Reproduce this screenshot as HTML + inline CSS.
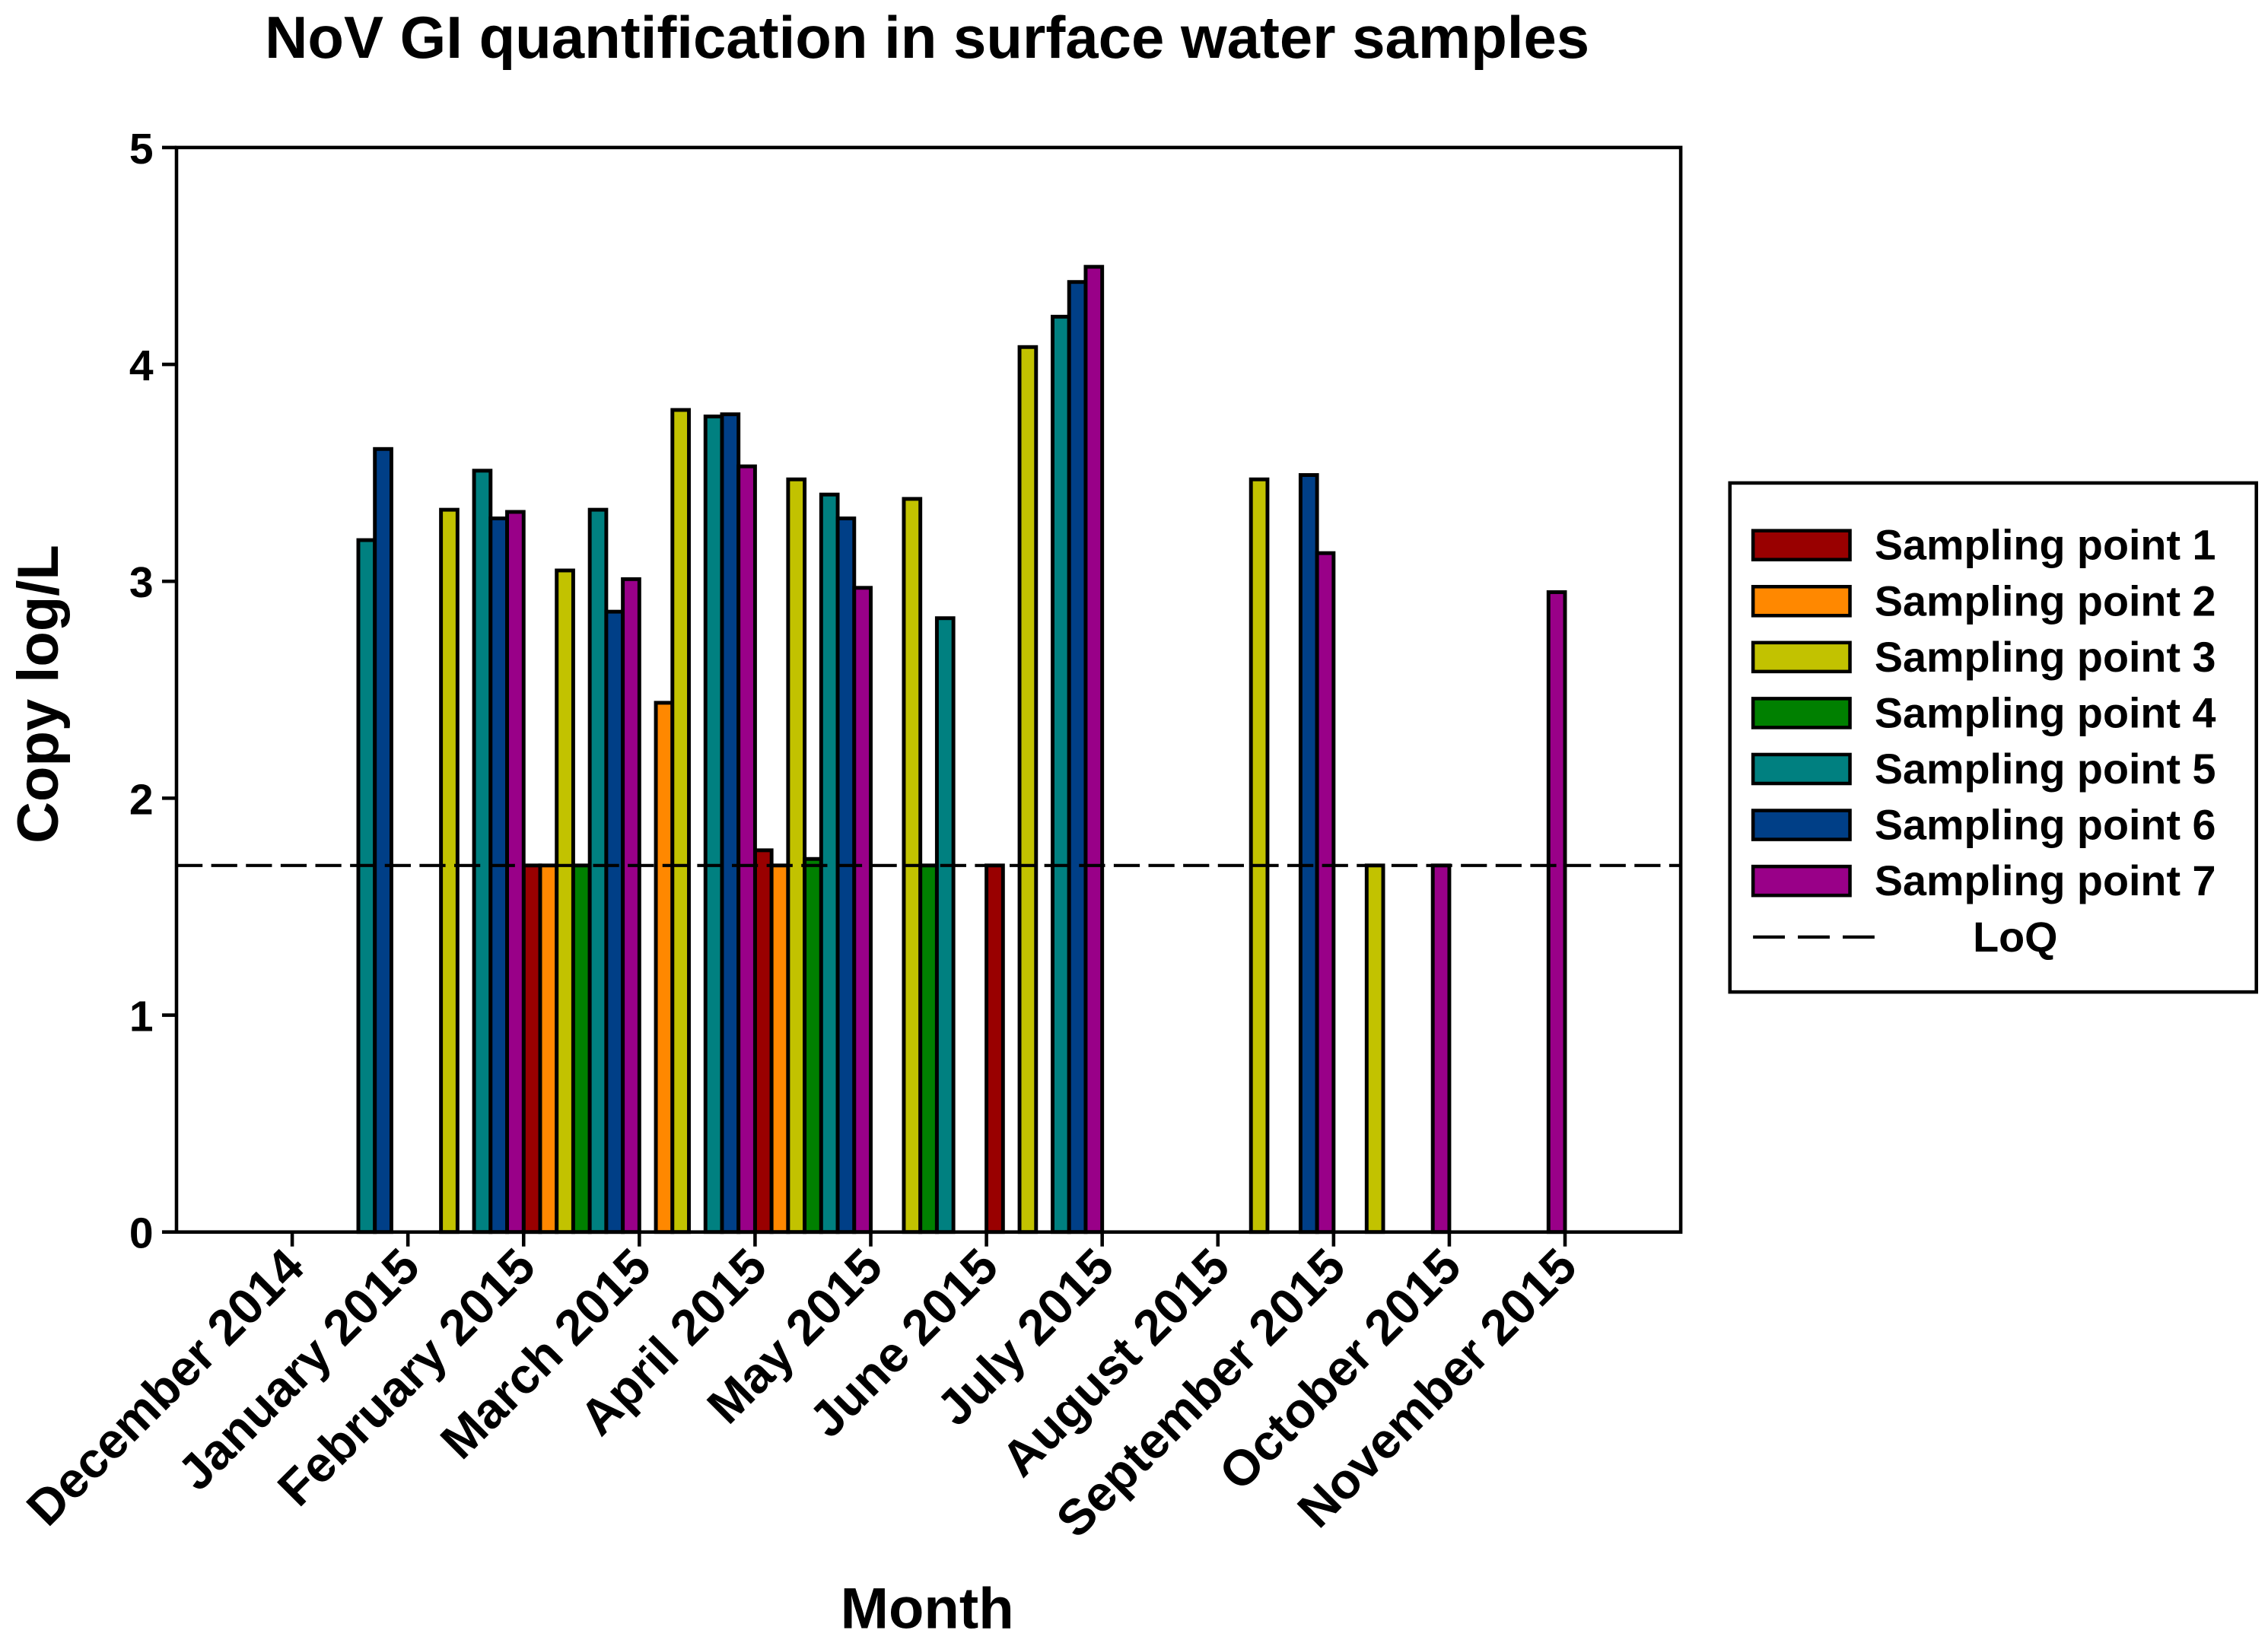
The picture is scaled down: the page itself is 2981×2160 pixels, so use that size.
<!DOCTYPE html>
<html><head><meta charset="utf-8"><style>html,body{margin:0;padding:0;background:#fff}svg{display:block}text{font-family:"Liberation Sans",Arial,sans-serif;font-weight:bold;fill:#000}</style></head>
<body>
<svg id="chart" width="2981" height="2160" viewBox="0 0 1568 1136.2" xmlns="http://www.w3.org/2000/svg">
<text x="641" y="40" font-size="41" text-anchor="middle">NoV GI quantification in surface water samples</text>
<g id="bars"></g>
<g id="axes"></g>
<text transform="translate(40,480) rotate(-90)" font-size="40" text-anchor="middle">Copy log/L</text>
<text x="641" y="1126" font-size="40" text-anchor="middle">Month</text>
<g id="legend"></g>
</svg>
<script>
const monthLabels = ['December 2014','January 2015','February 2015','March 2015','April 2015','May 2015','June 2015','July 2015','August 2015','September 2015','October 2015','November 2015'];
const seriesNames = ['Sampling point 1','Sampling point 2','Sampling point 3','Sampling point 4','Sampling point 5','Sampling point 6','Sampling point 7'];
const seriesColors = ['#990000','#FF8800','#C2C200','#008000','#008080','#003F87','#990088'];
// 13 groups (group 0 empty); null = no bar
const sp1 = [null,null,null,1.69,null,1.76,null,1.69,null,null,null,null,null];
const sp2 = [null,null,null,1.69,2.44,1.69,null,null,null,null,null,null,null];
const sp3 = [null,null,3.33,3.05,3.79,3.47,3.38,4.08,null,3.47,1.69,null,null];
const sp4 = [null,null,null,1.69,null,1.72,1.69,null,null,null,null,null,null];
const sp5 = [null,3.19,3.51,3.33,3.76,3.40,2.83,4.22,null,null,null,null,null];
const sp6 = [null,3.61,3.29,2.86,3.77,3.29,null,4.38,null,3.49,null,null,null];
const sp7 = [null,null,3.32,3.01,3.53,2.97,null,4.45,null,3.13,1.69,2.95,null];
const yTicks = [0,1,2,3,4,5];
const loq = 1.69;

const NS='http://www.w3.org/2000/svg';
const L=122,R=1162,T=102,B=852,nG=13,gw=(R-L)/nG;
const y=v=>B-(v-0)/(5-0)*(B-T);
const xg=i=>L+i*gw;
const series=[sp1,sp2,sp3,sp4,sp5,sp6,sp7];
function mk(tag,attrs,parent){const e=document.createElementNS(NS,tag);for(const k in attrs)e.setAttribute(k,attrs[k]);parent.appendChild(e);return e;}
const bars=document.getElementById('bars'),axes=document.getElementById('axes'),leg=document.getElementById('legend');
const bw=gw/7;
series.forEach((s,si)=>{s.forEach((v,gi)=>{if(v==null)return;
 const r=mk('rect',{x:xg(gi)+si*bw,y:y(v),width:bw,height:B-y(v),fill:seriesColors[si],stroke:'#000','stroke-width':2.6},bars);
 
 
});});
const ln=mk('line',{x1:L,x2:R,y1:y(loq),y2:y(loq),stroke:'#000','stroke-width':2.2,'stroke-dasharray':'18 6'},bars);


const fr=mk('rect',{x:L,y:T,width:R-L,height:B-T,fill:'none',stroke:'#000','stroke-width':2.4},axes);


yTicks.forEach(t=>{
 mk('line',{x1:L-10,x2:L,y1:y(t),y2:y(t),stroke:'#000','stroke-width':2.4},axes);
 const tx=mk('text',{x:L-16,y:y(t)+11,'font-size':30,'text-anchor':'end'},axes);tx.textContent=t;
 
 
});
monthLabels.forEach((m,i)=>{const x=xg(i+1);
 mk('line',{x1:x,x2:x,y1:B,y2:B+10,stroke:'#000','stroke-width':2.4},axes);
 const tx=mk('text',{transform:`translate(${x+10},${B+26}) rotate(-45)`,'font-size':34.5,'text-anchor':'end'},axes);tx.textContent=m;
 
 
});
const lb=mk('rect',{x:1196,y:334,width:364,height:352,fill:'#fff',stroke:'#000','stroke-width':2.4},leg);


seriesNames.forEach((n,i)=>{const yy=377+i*38.7;
 const sw=mk('rect',{x:1212,y:yy-10,width:67,height:20,fill:seriesColors[i],stroke:'#000','stroke-width':2.4},leg);
 
 
 const tx=mk('text',{x:1296,y:yy+10,'font-size':29.3},leg);tx.textContent=n;
 
 
});
const ly=648;
mk('line',{x1:1212,x2:1296,y1:ly,y2:ly,stroke:'#000','stroke-width':2.2,'stroke-dasharray':'22 9'},leg);
const lt=mk('text',{x:1364,y:ly+10,'font-size':29.3},leg);lt.textContent='LoQ';


</script>
</body></html>
